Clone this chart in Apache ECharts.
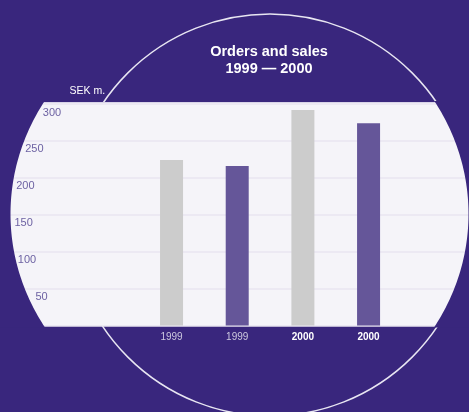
<!DOCTYPE html>
<html>
<head>
<meta charset="utf-8">
<script src="https://cdn.jsdelivr.net/npm/echarts@6/dist/echarts.min.js"></script>
<style>
html,body{margin:0;padding:0;background:#39267d;}
#chart{width:469px;height:412px;}
</style>
</head>
<body>
<div id="chart"></div>
<script>
// ---- data ----
const categories = ['1999', '1999', '2000', '2000'];
const seriesValues = [224, 216, 292, 274];
const yTickValues = [50, 100, 150, 200, 250, 300];
const yMin = 0, yMax = 300, yStep = 50;
const titleText = 'Orders and sales\n1999 \u2014 2000';
const unitText = 'SEK m.';

// ---- styles ----
const FONT = '"Liberation Sans", Arial, Helvetica, sans-serif';
const C = {
  bg: '#39267d', panel: '#f5f4f9', gridLine: '#e9e6f0', yLabel: '#6d62a3',
  ring: '#e8e6f2', grey: '#cccccc', purple: '#655699', topEdge: '#d9d4e8'
};
const barColors = [C.grey, C.purple, C.grey, C.purple];
const xLabelStyles = [
  { color: '#cdc9df', fontWeight: 'normal' },
  { color: '#cdc9df', fontWeight: 'normal' },
  { color: '#ffffff', fontWeight: 'bold' },
  { color: '#ffffff', fontWeight: 'bold' }
];
const yLabelIndent = { 50: 35.5, 100: 17.8, 150: 14.5, 200: 16.2, 250: 25.2, 300: 42.8 };

// ---- layout (decoration) ----
const W = 469, H = 412;
const plotTop = 104, plotBottom = 325.5;
const panelTop = 102, panelBottom = 326;
const ell = { cx: 239.5, cy: 214, rx: 229, ry: 215 };
function ellX(y, side) {
  const t = (y - ell.cy) / ell.ry;
  const d = ell.rx * Math.sqrt(Math.max(0, 1 - t * t));
  return side < 0 ? ell.cx - d : ell.cx + d;
}
function lune(side) {
  const edgeX = side < 0 ? -2 : W + 2;
  const y0 = panelTop - 1, y1 = panelBottom + 1.5;
  const pts = [[edgeX, y0]];
  const n = 80;
  for (let i = 0; i <= n; i++) {
    const y = y0 + (y1 - y0) * i / n;
    pts.push([ellX(y, side), y]);
  }
  pts.push([edgeX, y1]);
  return pts;
}

const rich = {};
yTickValues.forEach(v => {
  rich['t' + v] = {
    padding: [3, 0, 0, yLabelIndent[v]],
    fontSize: 11, color: C.yLabel, fontFamily: FONT
  };
});

const chart = echarts.init(document.getElementById('chart'), null, { renderer: 'canvas' });
chart.setOption({
  backgroundColor: C.bg,
  animation: false,
  title: {
    text: titleText,
    left: 269, top: 43.5, padding: 0,
    textAlign: 'center',
    textStyle: { color: '#ffffff', fontSize: 14.5, fontWeight: 'bold', lineHeight: 17, fontFamily: FONT }
  },
  grid: [
    { left: 0, right: 0, top: plotTop, bottom: H - plotBottom, outerBoundsMode: 'none', containLabel: false },
    { left: 138.7, width: 262.7, top: plotTop, bottom: H - plotBottom, outerBoundsMode: 'none', containLabel: false }
  ],
  xAxis: [
    { type: 'value', gridIndex: 0, min: 0, max: 1, show: false },
    {
      type: 'category', gridIndex: 1,
      data: categories.map((c, i) => ({ value: c, textStyle: xLabelStyles[i] })),
      axisLine: { show: false }, axisTick: { show: false }, splitLine: { show: false },
      axisLabel: { margin: 7, fontSize: 10, fontFamily: FONT, color: '#cdc9df' }
    }
  ],
  yAxis: [
    {
      type: 'value', gridIndex: 0, min: yMin, max: yMax, interval: yStep, z: 3,
      axisLine: { show: false }, axisTick: { show: false },
      splitLine: { show: true, lineStyle: { color: C.gridLine, width: 1.5 } },
      axisLabel: {
        inside: true, margin: 0, verticalAlign: 'top', align: 'left',
        fontSize: 11, color: C.yLabel, fontFamily: FONT,
        formatter: v => (yTickValues.indexOf(v) >= 0 ? '{t' + v + '|' + v + '}' : ''),
        rich: rich
      },
      name: unitText, nameLocation: 'end', nameGap: 7,
      nameTextStyle: {
        color: '#ffffff', fontSize: 10.5, fontFamily: FONT,
        align: 'left', verticalAlign: 'bottom', padding: [0, 0, 0, 69.5]
      }
    },
    { type: 'value', gridIndex: 1, min: yMin, max: yMax, interval: yStep, show: false }
  ],
  series: [{
    type: 'bar', xAxisIndex: 1, yAxisIndex: 1, z: 4,
    barWidth: 23,
    data: seriesValues.map((v, i) => ({ value: v, itemStyle: { color: barColors[i] } })),
    emphasis: { disabled: true }
  }],
  graphic: [
    { type: 'circle', z: 1, silent: true, shape: { cx: 270, cy: 215, r: 201 },
      style: { fill: 'none', stroke: C.ring, lineWidth: 1.5 } },
    { type: 'rect', z: 2, silent: true, shape: { x: -1, y: panelTop, width: W + 2, height: panelBottom - panelTop },
      style: { fill: C.panel } },
    { type: 'rect', z: 2, silent: true, shape: { x: -1, y: panelTop, width: W + 2, height: 1 },
      style: { fill: C.topEdge } },
    { type: 'polygon', z: 5, silent: true, shape: { points: lune(-1) }, style: { fill: C.bg } },
    { type: 'polygon', z: 5, silent: true, shape: { points: lune(1) }, style: { fill: C.bg } }
  ]
});
</script>
</body>
</html>
